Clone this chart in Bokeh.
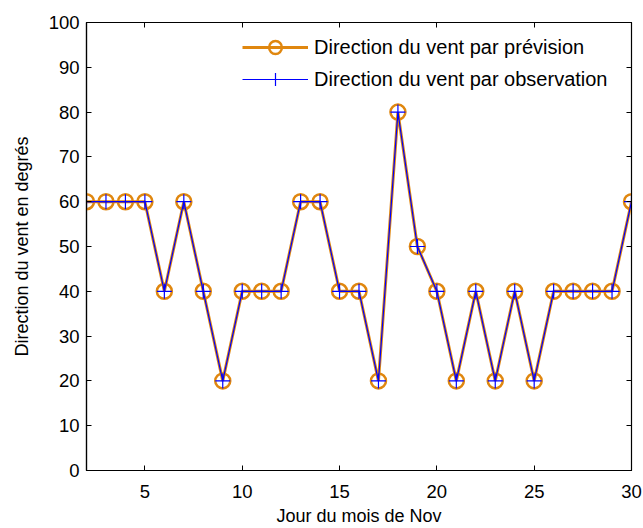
from bokeh.plotting import figure
from bokeh.models import LinearAxis, Range1d, Legend, LegendItem, FixedTicker
from bokeh.embed import file_html
from bokeh.resources import INLINE

# Wind direction in November, forecast vs observed (degrees)
days = list(range(2, 31))
forecast = [60, 60, 60, 60, 40, 60, 40, 20, 40, 40, 40, 60, 60, 40, 40, 20, 80, 50, 40, 20, 40, 20, 40, 20, 40, 40, 40, 40, 60]
observed = [60, 60, 60, 60, 40, 60, 40, 20, 40, 40, 40, 60, 60, 40, 40, 20, 80, 50, 40, 20, 40, 20, 40, 20, 40, 40, 40, 40, 60]
x_ticks = [5, 10, 15, 20, 25, 30]
y_ticks = list(range(0, 101, 10))

FONT = "Liberation Sans"
ORANGE = "#e0870f"
BLUE = "#0000ff"

p = figure(width=643, height=528, output_backend="svg", toolbar_location=None,
           x_range=Range1d(2, 30), y_range=Range1d(0, 100),
           min_border_left=86, min_border_right=12, min_border_top=22, min_border_bottom=58)
p.outline_line_color = "black"
p.outline_line_width = 1.2
p.grid.visible = False
p.background_fill_color = "white"
p.border_fill_color = "white"

for ax in (p.xaxis[0], p.yaxis[0]):
    ax.major_tick_in = 5
    ax.major_tick_out = 0
    ax.minor_tick_line_color = None
    ax.axis_line_color = "black"
    ax.axis_line_width = 1.2
    ax.major_label_text_font = FONT
    ax.major_label_text_font_size = "18.5px"
    ax.major_label_text_color = "black"
    ax.axis_label_text_font = FONT
    ax.axis_label_text_font_size = "18px"
    ax.axis_label_text_font_style = "normal"
    ax.axis_label_text_color = "black"

p.xaxis[0].ticker = FixedTicker(ticks=x_ticks)
p.yaxis[0].ticker = FixedTicker(ticks=y_ticks)
p.xaxis[0].axis_label = "Jour du mois de Nov"
p.yaxis[0].axis_label = "Direction du vent en degrés"
p.xaxis[0].major_label_standoff = 14
p.yaxis[0].major_label_standoff = 7
p.xaxis[0].axis_label_standoff = 5
p.yaxis[0].axis_label_standoff = 14

# Mirror ticks on the top and right edges (no labels)
top = LinearAxis(ticker=FixedTicker(ticks=x_ticks), major_tick_in=5, major_tick_out=0,
                 minor_tick_line_color=None, axis_line_color="black",
                 major_label_overrides={t: "" for t in x_ticks})
right = LinearAxis(ticker=FixedTicker(ticks=y_ticks), major_tick_in=5, major_tick_out=0,
                   minor_tick_line_color=None, axis_line_color="black",
                   major_label_overrides={t: "" for t in y_ticks})
p.add_layout(top, "above")
p.add_layout(right, "right")

fl = p.line(days, forecast, line_color=ORANGE, line_width=3)
fm = p.scatter(days, forecast, marker="circle", size=15, fill_color=None,
               line_color=ORANGE, line_width=2.5)
ol = p.line(days, observed, line_color=BLUE, line_width=1.2)
om = p.scatter(days, observed, marker="cross", size=15, line_color=BLUE, line_width=1.2)

# Legend placed in screen units from the frame's bottom-left corner
legend = Legend(items=[
    LegendItem(label="Direction du vent par prévision", renderers=[fl, fm]),
    LegendItem(label="Direction du vent par observation", renderers=[ol, om]),
], location=(156, 375))
legend.border_line_color = None
legend.background_fill_alpha = 0
legend.label_text_font = FONT
legend.label_text_font_size = "20px"
legend.label_text_color = "black"
legend.glyph_width = 66
legend.glyph_height = 32
legend.label_height = 32
legend.spacing = 0
legend.padding = 0
legend.margin = 0
legend.label_standoff = 6
p.add_layout(legend)

open("out.html", "w").write(file_html(p, INLINE))
